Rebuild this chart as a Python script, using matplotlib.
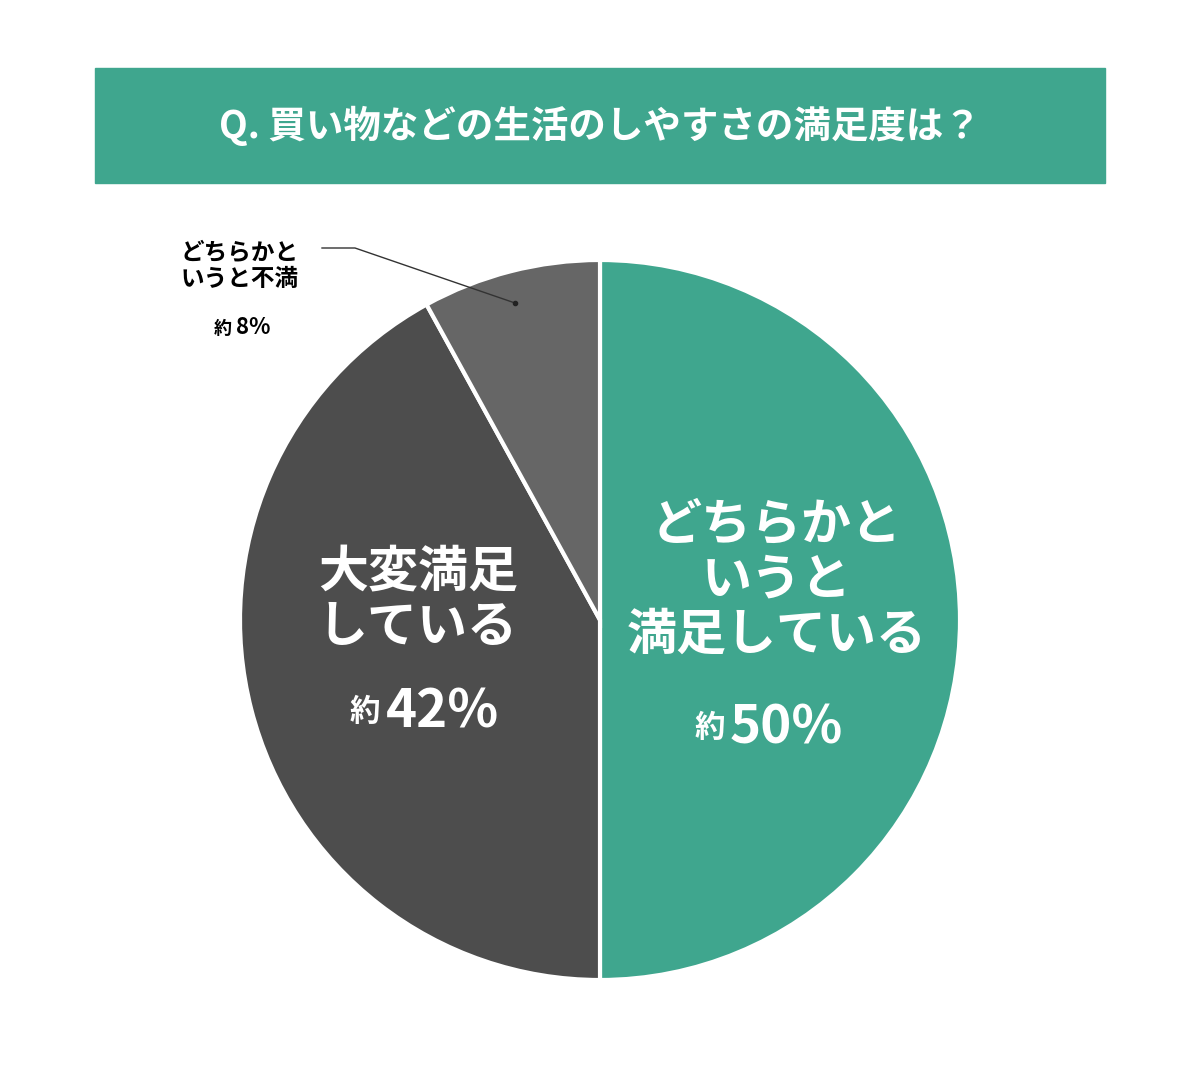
import matplotlib
matplotlib.use("Agg")
import matplotlib.pyplot as plt
from matplotlib.patches import Rectangle

plt.rcParams['font.family'] = ['Noto Sans CJK JP', 'DejaVu Sans']

title = "Q. 買い物などの生活のしやすさの満足度は？"
labels = ["どちらかと\nいうと\n満足している", "大変満足\nしている", "どちらかと\nいうと不満"]
values = [50, 42, 8]
pct_labels = ["50%", "42%", "8%"]
colors = ["#3fa68e", "#4d4d4d", "#666666"]

H = 1080
fig = plt.figure(figsize=(12, 10.8), dpi=100)
ax = fig.add_axes([0, 0, 1, 1])
ax.set_xlim(0, 1200); ax.set_ylim(0, H); ax.set_aspect('equal'); ax.axis('off')

ax.add_patch(Rectangle((95, H-183), 1010, 115, color="#3fa68e"))
ax.text(600, H-126, title, color="white", fontsize=27, fontweight='bold', ha='center', va='center')

ax.pie(values, colors=colors, startangle=90, counterclock=False, center=(600, H-620), radius=360,
       wedgeprops=dict(edgecolor='white', linewidth=3), frame=True)
ax.set_xlim(0, 1200); ax.set_ylim(0, H); ax.axis('off')

# big labels
ax.text(777, H-580, labels[0], color='white', fontsize=36, fontweight='bold', ha='center', va='center', linespacing=1.1)
ax.text(725, H-728, "約", color='white', fontsize=22, fontweight='bold', ha='right', va='center')
ax.text(730, H-728, pct_labels[0], color='white', fontsize=38, fontweight='bold', ha='left', va='center')

ax.text(418, H-600, labels[1], color='white', fontsize=36, fontweight='bold', ha='center', va='center', linespacing=1.1)
ax.text(380, H-712, "約", color='white', fontsize=22, fontweight='bold', ha='right', va='center')
ax.text(386, H-712, pct_labels[1], color='white', fontsize=38, fontweight='bold', ha='left', va='center')

ax.text(240, H-266, labels[2], color='black', fontsize=17, fontweight='bold', ha='center', va='center', linespacing=1.1)
ax.text(232, H-328, "約", color='black', fontsize=13, fontweight='bold', ha='right', va='center')
ax.text(236, H-328, pct_labels[2], color='black', fontsize=16, fontweight='bold', ha='left', va='center')

ax.plot([322, 355, 515], [H-248, H-248, H-303], color='#333333', lw=1)
ax.plot([515], [H-303], 'o', color='#222222', ms=3)

fig.savefig("out.png", dpi=100, facecolor='white')
